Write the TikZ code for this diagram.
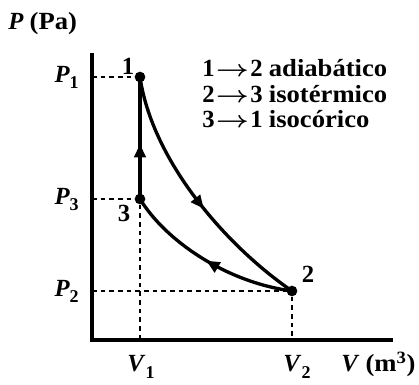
\documentclass[tikz,border=0pt]{standalone}
\usepackage{fontspec}
\setmainfont{Liberation Serif}
\usetikzlibrary{arrows.meta,decorations.markings}
\newcommand{\vsub}[2]{\textbf{\textit{#1}}\raisebox{-0.55ex}{\fontsize{13.5}{14}\selectfont\bfseries #2}}
\newcommand{\flechita}{\kern1pt\scalebox{1.25}[1]{\boldmath$\rightarrow$}\kern1pt}

\begin{document}
\begin{tikzpicture}[x=0.75pt, y=-0.75pt,
    font=\fontsize{18.5}{22}\selectfont\bfseries,
    eje/.style={line width=3pt},
    curva/.style={line width=2.5pt},
    guia/.style={line width=1.3pt, dash pattern=on 3.5pt off 3pt},
    punto/.style={circle, fill, inner sep=0pt, minimum size=8pt},
    flecha/.style={postaction={decorate}, decoration={markings,
        mark=at position #1 with {\arrow{Triangle[length=10pt,width=8.5pt]}}}}
]
\useasboundingbox (0,0) rectangle (419,385);
% Ejes
\coordinate (origen) at (92,340);
\coordinate (ytop) at (92,53);
\coordinate (xend) at (393,340);
\draw[eje] (ytop) -- (origen) -- (xend);
\node[anchor=base west, inner sep=0pt] (ejeP) at (8,30) {\textit{P} \scalebox{1.08}[1]{(Pa)}};
\node[anchor=base west, inner sep=0pt] (ejeV) at (341,372) {\textit{V} \scalebox{1.08}[1]{(m\textsuperscript{3})}};
% Estados
\node[punto] (p1) at (140,77) {};
\node[punto] (p3) at (140,199) {};
\node[punto] (p2) at (292,291) {};
\node[anchor=base] (n1) at (128,75) {1};
\node[anchor=base] (n3) at (124,222) {3};
\node[anchor=base] (n2) at (308,283) {2};
% Lineas de referencia
\coordinate (a1) at (92,77);
\coordinate (a3) at (92,199);
\coordinate (a2) at (92,291);
\coordinate (b1) at (140,340);
\coordinate (b2) at (292,340);
\draw[guia] (a1) -- (p1);
\draw[guia] (a3) -- (p3);
\draw[guia] (a2) -- (p2);
\draw[guia] (p3) -- (b1);
\draw[guia] (p2) -- (b2);
\node[anchor=base east, inner sep=0pt] (lP1) at (79,82.5) {\vsub{P}{1}};
\node[anchor=base east, inner sep=0pt] (lP3) at (79,204.5) {\vsub{P}{3}};
\node[anchor=base east, inner sep=0pt] (lP2) at (79,296.5) {\vsub{P}{2}};
\node[anchor=base] (lV1) at (141,372) {\vsub{V}{1}};
\node[anchor=base] (lV2) at (297,372) {\vsub{V}{2}};
% Ciclo
\draw[curva, flecha=0.55] (p1.center) .. controls (152,160) and (225,245) .. (p2.center);
\draw[curva, flecha=0.5] (p2.center) .. controls (225,282) and (165,240) .. (p3.center);
\draw[curva, flecha=0.45] (p3.center) -- (p1.center);
% Procesos
\node[anchor=base west, inner sep=0pt] (t1) at (202,77) {1\flechita 2 \scalebox{1.08}[1]{adiabático}};
\node[anchor=base west, inner sep=0pt] (t2) at (202,103) {2\flechita 3 \scalebox{1.08}[1]{isotérmico}};
\node[anchor=base west, inner sep=0pt] (t3) at (202,128) {3\flechita 1 \scalebox{1.08}[1]{isocórico}};
\end{tikzpicture}
\end{document}
